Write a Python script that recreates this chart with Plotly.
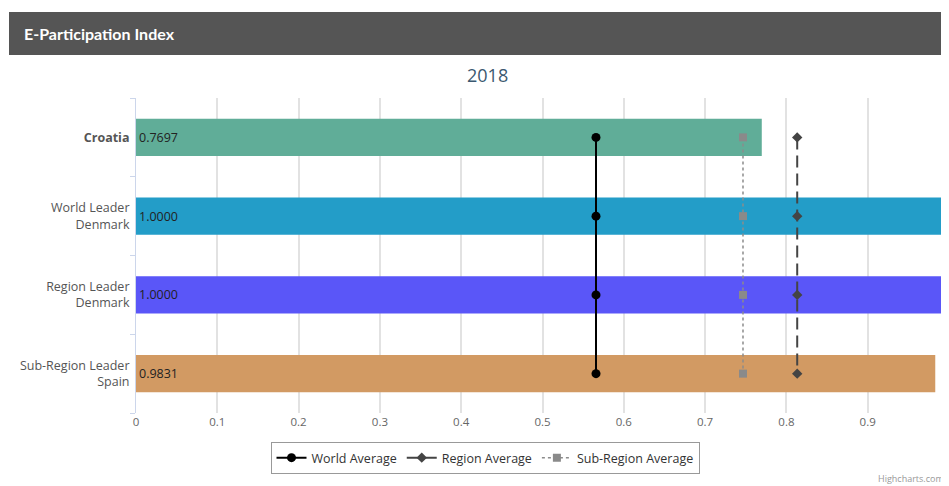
import plotly.graph_objects as go

categories = ["Croatia", "World Leader<br>Denmark", "Region Leader<br>Denmark", "Sub-Region Leader<br>Spain"]
values = [0.7697, 1.0, 1.0, 0.9831]
bar_colors = ["#60ad98", "#239dc8", "#5a56f8", "#d29a63"]
world_avg = 0.5658
region_avg = 0.8133
subregion_avg = 0.7466
x_ticks = [0, 0.1, 0.2, 0.3, 0.4, 0.5, 0.6, 0.7, 0.8, 0.9, 1.0]
x_tick_labels = ["0", "0.1", "0.2", "0.3", "0.4", "0.5", "0.6", "0.7", "0.8", "0.9", ""]

y_labels = ["<b>Croatia</b>", "World Leader<br>Denmark", "Region Leader<br>Denmark", "Sub-Region Leader<br>Spain"]

# page-pixel helpers (the figure sits at an 8px body offset in the page)
PL, PT, PW, PH = 136, 98, 813, 315
def px(x):
    return (x - PL) / PW
def py(y):
    return (PT + PH - y) / PH

fig = go.Figure()
fig.add_trace(go.Bar(
    x=values, y=categories, orientation="h",
    marker=dict(color=bar_colors, line=dict(width=0)),
    text=[f"{v:.4f}" for v in values], textposition="inside", insidetextanchor="start",
    textfont=dict(size=12.5, color="#222222", family="Open Sans"),
    showlegend=False, hoverinfo="skip",
))
fig.add_trace(go.Scatter(
    x=[world_avg] * len(categories), y=categories, mode="lines+markers",
    name="World Average", line=dict(color="#000000", width=2),
    marker=dict(symbol="circle", size=9, color="#000000"),
))
fig.add_trace(go.Scatter(
    x=[region_avg] * len(categories), y=categories, mode="lines+markers",
    name="Region Average", line=dict(color="#444444", width=2, dash="12px,6px"),
    marker=dict(symbol="diamond", size=8, color="#444444"),
))
fig.add_trace(go.Scatter(
    x=[subregion_avg] * len(categories), y=categories, mode="lines+markers",
    name="Sub-Region Average", line=dict(color="#8c8c8c", width=1.5, dash="dot"),
    marker=dict(symbol="square", size=8, color="#8a8a8a"),
))

# header bar
fig.add_shape(type="rect", xref="paper", yref="paper",
              x0=px(9), x1=px(949), y0=py(55), y1=py(12),
              fillcolor="#555555", line=dict(width=0), layer="below")
fig.add_annotation(text="<b>E-Participation Index</b>", xref="paper", yref="paper",
                   x=px(22), y=py(33), xanchor="left", yanchor="middle",
                   showarrow=False, font=dict(size=16, color="#ffffff", family="Lato"))
fig.add_annotation(text="2018", xref="paper", yref="paper",
                   x=px(487), y=py(75), xanchor="center", yanchor="middle",
                   showarrow=False, font=dict(size=18, color="#3b5870", family="Open Sans"))
fig.add_annotation(text="Highcharts.com", xref="paper", yref="paper",
                   x=px(946), y=py(478), xanchor="right", yanchor="middle",
                   showarrow=False, font=dict(size=9, color="#999999", family="Open Sans"))

fig.update_layout(
    width=941, height=478,
    margin=dict(l=PL - 8, r=0, t=PT - 8, b=478 - (PT - 8) - PH),
    paper_bgcolor="#ffffff", plot_bgcolor="#ffffff",
    bargap=0.53,
    font=dict(family="Open Sans", color="#666666"),
    xaxis=dict(range=[0, 1], tickvals=x_ticks, ticktext=x_tick_labels,
               showgrid=True, gridcolor="#e2e2e2", gridwidth=1.5, zeroline=False,
               tickfont=dict(size=11.5, color="#666666"), showline=False, fixedrange=True),
    yaxis=dict(autorange="reversed", tickvals=categories, ticktext=y_labels,
               showline=True, linecolor="#ccd6eb", linewidth=1,
               ticks="outside", tickson="boundaries", ticklen=5, tickcolor="#ccd6eb",
               ticklabelstandoff=3,
               tickfont=dict(size=12.5, color="#555555"), showgrid=False, fixedrange=True),
    legend=dict(orientation="h", x=px(485), xanchor="center",
                y=py(458), yanchor="middle",
                bordercolor="#999999", borderwidth=1, bgcolor="#ffffff",
                font=dict(size=12.5, color="#333333"), tracegroupgap=0),
)

fig.write_html("out.html")
